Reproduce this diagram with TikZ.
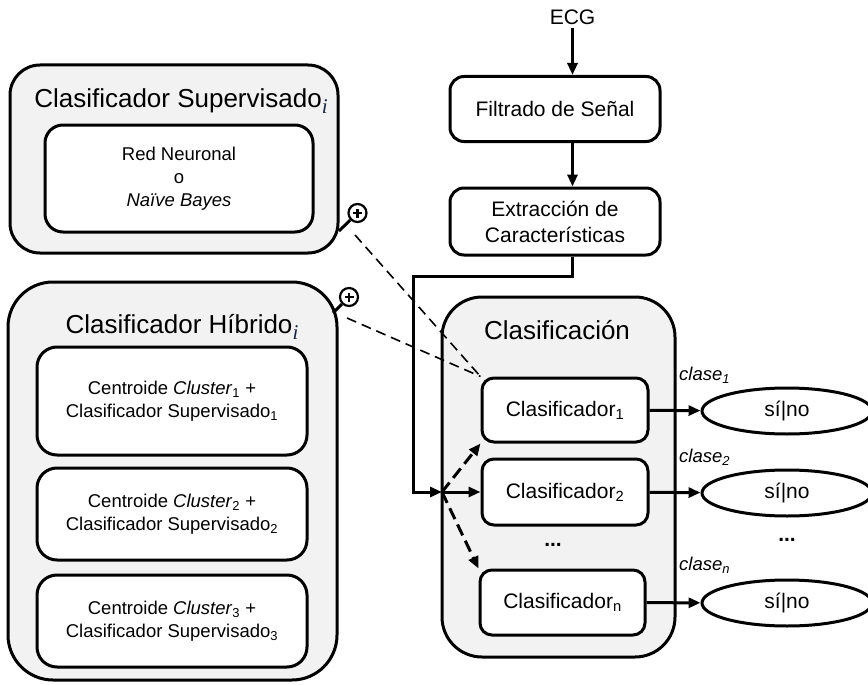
\documentclass[tikz,border=0pt]{standalone}
\usepackage{fontspec}
\setmainfont{Liberation Sans}
\newfontfamily\idxfont{Liberation Serif}
\usetikzlibrary{arrows.meta,shapes.geometric}

\definecolor{panelgray}{RGB}{242,242,242}
\definecolor{idxblue}{RGB}{25,35,70}

\newcommand{\fntTitle}{\fontsize{26}{30}\selectfont}
\newcommand{\fntBox}{\fontsize{21}{26}\selectfont}
\newcommand{\fntSmall}{\fontsize{18.5}{23}\selectfont}
% index i of the titles
\newcommand{\idx}{\raisebox{-6.5pt}{\idxfont\itshape\fontsize{21}{21}\selectfont\color{idxblue}i}}

\tikzset{
    panel/.style={draw, line width=3pt, fill=panelgray, rounded corners=#1},
    panel/.default=30pt,
    block/.style={draw, line width=3pt, fill=white, rounded corners=#1, align=center},
    block/.default=14pt,
    answer/.style={draw, ellipse, line width=3pt, fill=white, minimum width=170pt, minimum height=46pt, font=\fntBox},
    flow/.style={line width=3pt, -{Triangle[length=12pt,width=10pt]}},
    link/.style={line width=1.6pt, dash pattern=on 10pt off 6pt},
    plus/.style={circle, draw, line width=2.2pt, fill=white, minimum size=18pt, inner sep=0pt,
        path picture={\draw[line width=2.4pt]
            ([xshift=-4.5pt]path picture bounding box.center) -- ([xshift=4.5pt]path picture bounding box.center)
            ([yshift=-4.5pt]path picture bounding box.center) -- ([yshift=4.5pt]path picture bounding box.center);}},
}

\begin{document}
\begin{tikzpicture}[x=1pt, y=-1pt]
    \useasboundingbox (0,0) rectangle (868,685);

    % supervised classifier
    \node[panel=30pt, minimum width=328pt, minimum height=188pt] (supPanel) at (174,159) {};
    \node[font=\fntTitle] (supTitle) at (181,101) {Clasificador Supervisado\idx};
    \node[block=18pt, minimum width=268pt, minimum height=107pt, font=\fntSmall] (supInner) at (179,178.5)
        {Red Neuronal\\o\\\textit{Naïve Bayes}};

    % hybrid classifier
    \node[panel=45pt, minimum width=329pt, minimum height=398pt] (hybPanel) at (172.5,481) {};
    \node[font=\fntTitle] (hybTitle) at (182,327) {Clasificador Híbrido\idx};
    \node[block=20pt, minimum width=270pt, minimum height=108pt, font=\fntSmall] (hyb1) at (172,401)
        {Centroide \textit{Cluster}\textsubscript{1} +\\Clasificador Supervisado\textsubscript{1}};
    \node[block=20pt, minimum width=270pt, minimum height=92pt, font=\fntSmall] (hyb2) at (172,514)
        {Centroide \textit{Cluster}\textsubscript{2} +\\Clasificador Supervisado\textsubscript{2}};
    \node[block=20pt, minimum width=270pt, minimum height=92pt, font=\fntSmall] (hyb3) at (172,621)
        {Centroide \textit{Cluster}\textsubscript{3} +\\Clasificador Supervisado\textsubscript{3}};

    % plus markers
    \node[plus] (plusSup) at (357.5,213) {};
    \node[plus] (plusHyb) at (349,297) {};
    \coordinate (stemSup) at (339,231);
    \coordinate (stemHyb) at (333,313);
    \draw[line width=3pt] (stemSup) -- (plusSup);
    \draw[line width=3pt] (stemHyb) -- (plusHyb);

    % main chain
    \node[font=\fntBox] (ecg) at (572.5,17) {ECG};
    \node[block, minimum width=210pt, minimum height=65pt, font=\fntBox] (filt) at (555,109) {Filtrado de Señal};
    \node[block, minimum width=210pt, minimum height=67pt, font=\fntBox] (ext) at (555,221.5)
        {Extracción de\\Características};
    \draw[flow] (ecg.south) -- (ecg |- filt.north);
    \draw[flow] (ecg |- filt.south) -- (ecg |- ext.north);

    % classification
    \node[panel=40pt, minimum width=233pt, minimum height=360pt] (clsPanel) at (558.5,477) {};
    \node[font=\fntTitle] (clsTitle) at (557,330) {Clasificación};
    \node[block=12pt, minimum width=166pt, minimum height=64pt, font=\fntBox] (clf1) at (565,410) {Clasificador\textsubscript{1}};
    \node[block=12pt, minimum width=166pt, minimum height=66pt, font=\fntBox] (clf2) at (565,492) {Clasificador\textsubscript{2}};
    \node[font=\fntBox] (clfDots) at (553,545) {\textbf{...}};
    \node[block=12pt, minimum width=165pt, minimum height=65pt, font=\fntBox] (clfn) at (562.5,602.5) {Clasificador\textsubscript{n}};

    \coordinate (turn) at (413,276);
    \coordinate (split) at (442,492);
    \draw[flow] (ecg |- ext.south) |- (turn) |- (split);
    \draw[flow, dash pattern=on 12pt off 6pt] (split) -- (clf1.south west);
    \draw[flow] (split) -- (clf2.west);
    \draw[flow, dash pattern=on 12pt off 6pt] (split) -- (clfn.north west);

    % dashed links to the first classifier
    \coordinate (linkSup) at (355,235);
    \coordinate (linkHyb) at (347,318);
    \draw[link] (linkSup) -- (clf1.north west);
    \draw[link] (linkHyb) -- (clf1.north west);

    % outputs
    \node[answer] (ans1) at (787,411) {sí|no};
    \node[answer] (ans2) at (787,493) {sí|no};
    \node[font=\fntBox] (ansDots) at (787,540) {\textbf{...}};
    \node[answer] (ansn) at (787,603) {sí|no};
    \node[anchor=west, font=\fntSmall, inner sep=0pt] (cls1) at (679,375) {\textit{clase\textsubscript{1}}};
    \node[anchor=west, font=\fntSmall, inner sep=0pt] (cls2) at (679,457) {\textit{clase\textsubscript{2}}};
    \node[anchor=west, font=\fntSmall, inner sep=0pt] (clsn) at (679,565) {\textit{clase\textsubscript{n}}};
    \draw[flow] (clf1) -- (ans1);
    \draw[flow] (clf2) -- (ans2);
    \draw[flow] (clfn) -- (ansn);
\end{tikzpicture}
\end{document}
